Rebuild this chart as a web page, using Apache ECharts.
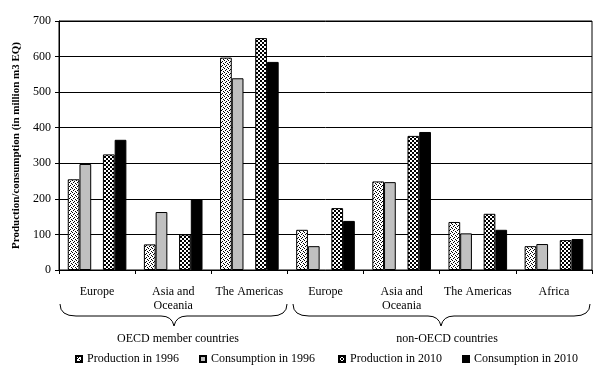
<!DOCTYPE html>
<html><head><meta charset="utf-8">
<script src="https://cdn.jsdelivr.net/npm/echarts@6/dist/echarts.min.js"></script>
<style>html,body{margin:0;padding:0;background:#fff}#c{width:601px;height:370px}</style>
</head><body><div id="c"></div>
<script>
// ---- data ----
const categories = ['Europe', 'Asia and\nOceania', 'The Americas', 'Europe', 'Asia and\nOceania', 'The Americas', 'Africa'];
const production1996  = [255, 72, 597, 113, 249, 135, 67];
const consumption1996 = [298, 163, 539, 67, 247, 103, 73];
const production2010  = [325, 100, 652, 174, 377, 158, 84];
const consumption2010 = [366, 199, 585, 138, 388, 113, 87];
const yTicks = [0, 700, 100];
const groupLabels = ['OECD member countries', 'non-OECD countries'];
const seriesNames = ['Production in 1996', 'Consumption in 1996', 'Production in 2010', 'Consumption in 2010'];

const FONT = 'Liberation Serif';

function makePattern(tile) {
  const n = tile.length;
  const cv = document.createElement('canvas');
  cv.width = n; cv.height = n;
  const ctx = cv.getContext('2d');
  ctx.fillStyle = '#fff'; ctx.fillRect(0, 0, n, n);
  ctx.fillStyle = '#000';
  for (let y = 0; y < n; y++) for (let x = 0; x < n; x++) if (tile[y][x] === '1') ctx.fillRect(x, y, 1, 1);
  return { image: cv, repeat: 'repeat' };
}
const dotted = makePattern(['1000', '0010', '0100', '0001']);
const checker = makePattern(['1100', '1100', '0011', '0011']);

const border = { borderColor: '#000', borderWidth: 1 };
function barSeries(name, data, color) {
  return { name, type: 'bar', data, barGap: 0, barCategoryGap: '23%',
    itemStyle: Object.assign({ color }, border), emphasis: { disabled: true } };
}

const legendLeft = [75, 199, 338, 462];
const legends = seriesNames.map((n, i) => ({
  data: [n], left: legendLeft[i], top: 353, icon: 'rect', itemWidth: 6, itemHeight: 6,
  padding: 0, selectedMode: false,
  textStyle: { fontFamily: FONT, fontSize: 12, color: '#000' }
}));

const lineStyle = { stroke: '#000', fill: 'none', lineWidth: 1 };
function brace(x1, x2, xm) {
  const yT = 304, yM = 316, yB = 326;
  const q = (a, b, c, d, cx, cy) => ({ type: 'bezierCurve', silent: true, shape: { x1: a, y1: b, x2: c, y2: d, cpx1: cx, cpy1: cy }, style: lineStyle });
  const l = (a, b, c, d) => ({ type: 'line', silent: true, shape: { x1: a, y1: b, x2: c, y2: d }, style: lineStyle });
  return [
    q(x1, yT, x1 + 16, yM, x1, yM),
    l(x1 + 16, yM, xm - 13, yM),
    q(xm - 13, yM, xm, yB, xm - 2, yM),
    q(xm, yB, xm + 13, yM, xm + 2, yM),
    l(xm + 13, yM, x2 - 16, yM),
    q(x2 - 16, yM, x2, yT, x2, yM)
  ];
}

const chart = echarts.init(document.getElementById('c'), null, { renderer: 'canvas' });
chart.setOption({
  animation: false,
  backgroundColor: '#fff',
  grid: { left: 59, right: 9, top: 21, bottom: 100, show: true, borderColor: '#000', borderWidth: 1, backgroundColor: 'transparent' },
  legend: legends,
  xAxis: {
    type: 'category', data: categories,
    axisLine: { lineStyle: { color: '#000', width: 1 } },
    axisTick: { show: true, alignWithLabel: false, length: 4, inside: false, lineStyle: { color: '#000' } },
    axisLabel: { interval: 0, margin: 15, fontFamily: FONT, fontSize: 12, color: '#000', lineHeight: 14 }
  },
  yAxis: {
    type: 'value', min: yTicks[0], max: yTicks[1], interval: yTicks[2],
    name: 'Production/consumption (in million m3 EQ)', nameLocation: 'middle', nameGap: 34,
    nameTextStyle: { fontFamily: FONT, fontSize: 11, fontWeight: 'bold', color: '#000' },
    axisLine: { show: true, lineStyle: { color: '#000', width: 1 } },
    axisTick: { show: true, length: 4, lineStyle: { color: '#000' } },
    splitLine: { show: true, lineStyle: { color: '#000', width: 1 } },
    axisLabel: { margin: 8, fontFamily: FONT, fontSize: 12, color: '#000' }
  },
  series: [
    barSeries(seriesNames[0], production1996, dotted),
    barSeries(seriesNames[1], consumption1996, '#c0c0c0'),
    { name: '_gap', type: 'bar', data: categories.map(() => '-'), barGap: 0, barCategoryGap: '23%' },
    barSeries(seriesNames[2], production2010, checker),
    barSeries(seriesNames[3], consumption2010, '#000')
  ],
  graphic: brace(60, 287, 174).concat(brace(293, 590, 441)).concat([
    { type: 'text', x: 178, y: 339, style: { text: groupLabels[0], font: '12px "' + FONT + '"', fill: '#000', textAlign: 'center', textVerticalAlign: 'middle' } },
    { type: 'text', x: 447, y: 339, style: { text: groupLabels[1], font: '12px "' + FONT + '"', fill: '#000', textAlign: 'center', textVerticalAlign: 'middle' } }
  ])
});
</script></body></html>
